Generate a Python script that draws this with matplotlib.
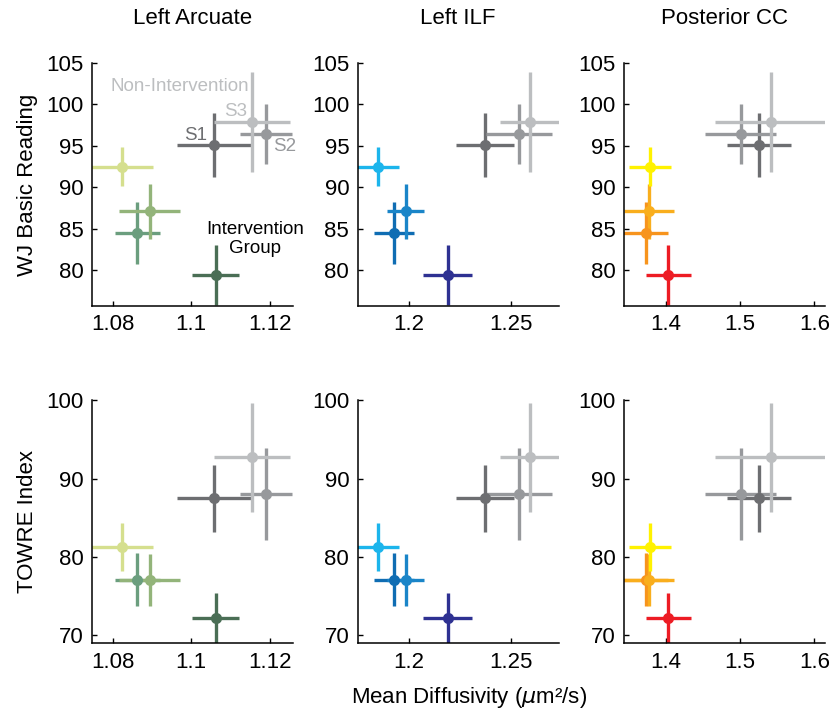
import numpy as np
import matplotlib
matplotlib.use("Agg")
import matplotlib.pyplot as plt

plt.rcParams['font.family'] = ['Liberation Sans', 'DejaVu Sans']

# groups: 4 intervention sessions, then non-intervention S1, S2, S3
tracts = ["Left Arcuate", "Left ILF", "Posterior CC"]
measures = ["WJ Basic Reading", "TOWRE Index"]

# mean diffusivity (x) and its error, per tract
md = {
    "Left Arcuate": [1.0824, 1.0894, 1.0862, 1.1062, 1.1057, 1.1191, 1.1155],
    "Left ILF":     [1.1850, 1.1985, 1.1928, 1.2191, 1.2373, 1.2538, 1.2592],
    "Posterior CC": [1.3796, 1.3778, 1.3733, 1.4040, 1.5256, 1.5009, 1.5413],
}
md_err = {
    "Left Arcuate": [0.0079, 0.0078, 0.0057, 0.0059, 0.0094, 0.0066, 0.0096],
    "Left ILF":     [0.0105, 0.0090, 0.0097, 0.0120, 0.0140, 0.0160, 0.0145],
    "Posterior CC": [0.028, 0.033, 0.030, 0.030, 0.043, 0.048, 0.075],
}

# reading scores (y) and their error
wj = [92.5, 87.1, 84.5, 79.4, 95.1, 96.4, 97.9]
wj_err = [2.35, 3.35, 3.7, 3.6, 3.9, 3.6, 6.0]
towre = [81.3, 77.1, 77.1, 72.2, 87.5, 88.0, 92.7]
towre_err = [3.05, 3.3, 3.4, 3.2, 4.3, 5.85, 6.9]

grays = ['#6d6e71', '#97999c', '#bcbec0']
colors = {
    "Left Arcuate": ['#d5df8e', '#93b47a', '#6b9e7e', '#4a6e55'] + grays,
    "Left ILF":     ['#1cb5ec', '#1a85c8', '#0f6db3', '#2e3192'] + grays,
    "Posterior CC": ['#fff200', '#f9ae1d', '#f7941d', '#ed1c24'] + grays,
}

xlims = {"Left Arcuate": (1.0747, 1.1259), "Left ILF": (1.175, 1.2732),
         "Posterior CC": (1.344, 1.614)}
xticks = {"Left Arcuate": [1.08, 1.1, 1.12], "Left ILF": [1.2, 1.25],
          "Posterior CC": [1.4, 1.5, 1.6]}
xticklabels = {"Left Arcuate": ["1.08", "1.1", "1.12"], "Left ILF": ["1.2", "1.25"],
               "Posterior CC": ["1.4", "1.5", "1.6"]}

fig = plt.figure(figsize=(8.34, 7.19), dpi=100)
lefts = [0.1103, 0.4287, 0.748]
bottoms = [0.5744, 0.1053]
order = [4, 5, 6, 3, 2, 1, 0]

for r, measure in enumerate(measures):
    yv = wj if r == 0 else towre
    ye = wj_err if r == 0 else towre_err
    for c, tract in enumerate(tracts):
        ax = fig.add_axes([lefts[c], bottoms[r], 0.241, 0.338])
        for i in order:
            ax.errorbar(md[tract][i], yv[i], xerr=md_err[tract][i], yerr=ye[i],
                        fmt='o', color=colors[tract][i], ms=7, elinewidth=2.4,
                        capsize=0, clip_on=True)
        ax.set_xlim(*xlims[tract])
        if r == 0:
            ax.set_ylim(75.7, 105)
            ax.set_yticks([80, 85, 90, 95, 100, 105])
        else:
            ax.set_ylim(69, 100)
            ax.set_yticks([70, 80, 90, 100])
        ax.set_xticks(xticks[tract])
        ax.set_xticklabels(xticklabels[tract])
        for s in ['top', 'right']:
            ax.spines[s].set_visible(False)
        for s in ['left', 'bottom']:
            ax.spines[s].set_linewidth(1.1)
        ax.tick_params(direction='in', length=3.5, width=1, labelsize=16, pad=6)
        if r == 0:
            ax.set_title(tract, fontsize=16, pad=28)
        if c == 0:
            ax.set_ylabel(measure, fontsize=16, labelpad=6)
        if r == 0 and c == 0:
            ax.text(1.0971, 102.16, "Non-Intervention", color='#bcbec0',
                    fontsize=13.5, ha='center', va='center')
            ax.text(1.1113, 99.2, "S3", color='#bcbec0', fontsize=13.5,
                    ha='center', va='center')
            ax.text(1.1011, 96.27, "S1", color='#6d6e71', fontsize=13.5,
                    ha='center', va='center')
            ax.text(1.1237, 94.88, "S2", color='#97999c', fontsize=13.5,
                    ha='center', va='center')
            ax.text(1.1162, 83.8, "Intervention\nGroup", color='black',
                    fontsize=13.5, ha='center', va='center', linespacing=1.2)

fig.text(0.562, 0.012, "Mean Diffusivity ($\\mu$m²/s)", fontsize=16,
         ha='center', va='bottom')

fig.savefig("out.png", dpi=100)
